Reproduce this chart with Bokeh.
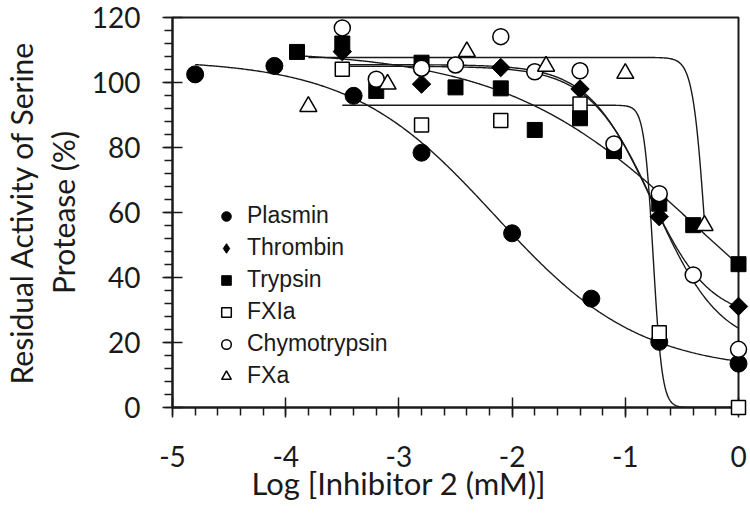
import numpy as np
from bokeh.plotting import figure
from bokeh.models import (Range1d, SingleIntervalTicker, Legend, LegendItem,
                          PrintfTickFormatter, Title)
from bokeh.embed import file_html
from bokeh.resources import INLINE

# ---- data ----
plasmin_x = [-4.8, -4.1, -3.4, -2.8, -2.0, -1.3, -0.7, 0.0]
plasmin_y = [102.5, 105.1, 95.9, 78.4, 53.6, 33.5, 20.2, 13.5]

thrombin_x = [-3.5, -2.8, -2.1, -1.4, -0.7, 0.0]
thrombin_y = [109.5, 99.5, 104.6, 98.0, 58.7, 31.1]

trypsin_x = [-3.9, -3.5, -3.2, -2.8, -2.5, -2.1, -1.8, -1.4, -1.1, -0.7, -0.4, 0.0]
trypsin_y = [109.4, 112.0, 97.4, 106.1, 98.5, 98.2, 85.4, 89.0, 78.9, 62.7, 56.1, 44.1]

fxia_x = [-3.5, -2.8, -2.1, -1.4, -0.7, 0.0]
fxia_y = [104.1, 86.9, 88.3, 93.4, 23.0, 0.0]

chymo_x = [-3.5, -3.2, -2.8, -2.5, -2.1, -1.8, -1.4, -1.1, -0.7, -0.4, 0.0]
chymo_y = [116.8, 101.0, 104.4, 105.4, 114.1, 103.3, 103.6, 81.1, 65.8, 40.8, 17.9]

fxa_x = [-3.8, -3.1, -2.4, -1.7, -1.0, -0.3]
fxa_y = [92.6, 99.5, 109.5, 105.0, 102.8, 56.0]

# fitted dose-response curves (4-parameter logistic), parameters
fit_names = ["Plasmin", "Thrombin", "Trypsin", "FXIa", "Chymotrypsin", "FXa"]
fit_top = [107.0, 105.5, 110.0, 93.0, 105.0, 107.7]
fit_bottom = [11.0, 27.0, 0.0, 0.0, 18.0, 0.0]
fit_logic50 = [-2.15, -0.80, -0.35, -0.754, -0.733, -0.294]
fit_hill = [0.68, 1.6, 0.505, 10.9, 1.5, 8.0]
fit_start = [-4.8, -3.5, -3.9, -3.5, -3.5, -3.8]
fit_end = [0.0, 0.0, 0.0, 0.0, 0.0, -0.3]

x_title = "Log [Inhibitor 2 (mM)]"
y_title = "Residual Activity of Serine\nProtease (%)"

FONT = "Lato"
INK = "#1a1a1a"

p = figure(width=749, height=520, x_range=Range1d(-5, 0), y_range=Range1d(0, 120),
           output_backend="svg", toolbar_location=None,
           min_border_left=171, min_border_right=11, min_border_top=17, min_border_bottom=113)
p.grid.visible = False
p.outline_line_color = INK
p.outline_line_width = 2
p.background_fill_color = "white"

p.xaxis.ticker = SingleIntervalTicker(interval=1, num_minor_ticks=5)
p.yaxis.ticker = SingleIntervalTicker(interval=20, num_minor_ticks=5)
p.xaxis.formatter = PrintfTickFormatter(format="%d")
for ax in (p.xaxis, p.yaxis):
    ax.axis_line_width = 2
    ax.axis_line_color = INK
    ax.major_tick_line_color = INK
    ax.minor_tick_line_color = INK
    ax.major_tick_line_width = 1.5
    ax.minor_tick_line_width = 1.5
    ax.major_tick_in = 10
    ax.major_tick_out = 10
    ax.minor_tick_in = 0
    ax.minor_tick_out = 8
    ax.major_label_text_font = FONT
    ax.major_label_text_font_size = "28px"
    ax.major_label_text_color = INK
    ax.axis_label_text_font = FONT
    ax.axis_label_text_font_size = "30px"
    ax.axis_label_text_font_style = "normal"
    ax.axis_label_text_color = INK
p.xaxis.major_label_standoff = 28
p.yaxis.major_label_standoff = 22
p.yaxis.axis_label = y_title
p.yaxis.axis_label_standoff = 8
p.yaxis.axis_label_text_line_height = 1.16

# x-axis title, placed left of centre as in the reference
p.add_layout(Title(text=x_title, align="left", offset=79, vertical_align="top", standoff=-12,
                   text_font=FONT, text_font_size="31px", text_font_style="normal",
                   text_color=INK), "below")

# curves
for i in range(len(fit_names)):
    xs = np.linspace(fit_start[i], fit_end[i], 400)
    ys = fit_bottom[i] + (fit_top[i] - fit_bottom[i]) / (1 + 10 ** ((xs - fit_logic50[i]) * fit_hill[i]))
    p.line(xs, ys, line_color=INK, line_width=1.4)

r_pl = p.scatter(plasmin_x, plasmin_y, marker="circle", size=17, fill_color="black", line_color="black", level="overlay")
# legend key for thrombin (diamond); it sits fully hidden under the rotated-square markers drawn on top
r_th_key = p.scatter(thrombin_x, thrombin_y, marker="diamond", size=13, fill_color="black", line_color="black")
r_th = p.scatter(thrombin_x, thrombin_y, marker="square", angle=np.pi / 4, size=13, fill_color="black", line_color="black", level="overlay")
r_tr = p.scatter(trypsin_x, trypsin_y, marker="square", size=15, fill_color="black", line_color="black", level="overlay")
r_fxia = p.scatter(fxia_x, fxia_y, marker="square", size=14, fill_color="white", line_color="black", line_width=1.5, level="overlay")
r_ch = p.scatter(chymo_x, chymo_y, marker="circle", size=16, fill_color="white", line_color="black", line_width=1.5, level="overlay")
r_fxa = p.scatter(fxa_x, fxa_y, marker="triangle", size=17, fill_color="white", line_color="black", line_width=1.5, level="overlay")

legend = Legend(items=[LegendItem(label=n, renderers=[r]) for n, r in
                       zip(fit_names, [r_pl, r_th_key, r_tr, r_fxia, r_ch, r_fxa])],
                location=(42, 18), orientation="vertical", border_line_color=None,
                background_fill_alpha=0, padding=0, margin=0, spacing=5,
                glyph_width=24, glyph_height=26, label_height=26, label_standoff=9,
                label_text_font="Liberation Sans", label_text_font_size="23px", label_text_color=INK)
p.add_layout(legend)

open("out.html", "w").write(file_html(p, INLINE))
